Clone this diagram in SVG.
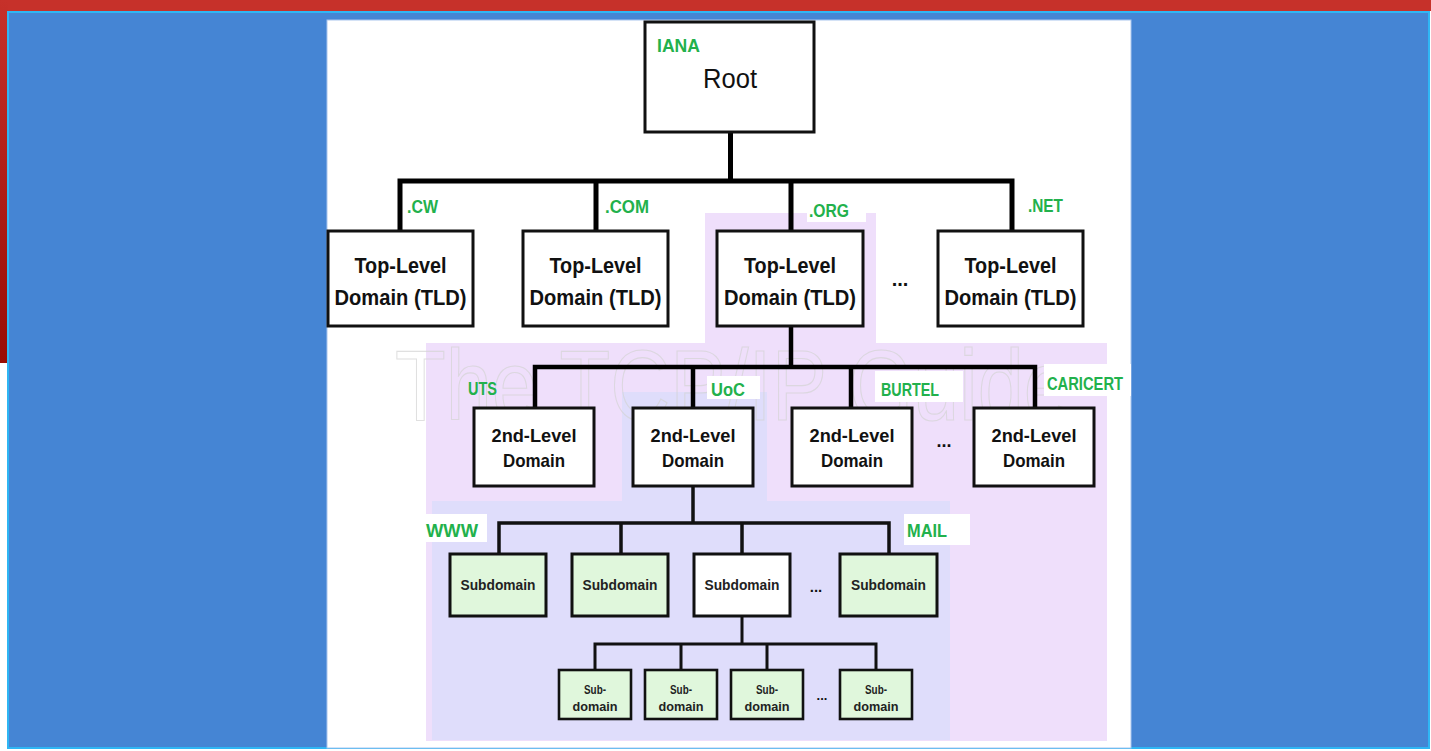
<svg xmlns="http://www.w3.org/2000/svg" width="1431" height="751" viewBox="0 0 1431 751">
<defs>
<linearGradient id="redStrip" x1="0" y1="0" x2="0" y2="1">
<stop offset="0" stop-color="#c6312a"/>
<stop offset="1" stop-color="#990d04"/>
</linearGradient>
<style>
.box{fill:#ffffff;stroke:#111111;stroke-width:3}
.sub{fill:#e0f7dc;stroke:#111111;stroke-width:3}
.subw{fill:#ffffff;stroke:#111111;stroke-width:3}
.ssub{fill:#e0f7dc;stroke:#111111;stroke-width:2.6}
.lbl{font-family:"Liberation Sans",Arial,sans-serif;font-size:18px;fill:#22b14c;font-weight:bold}
.t1{font-family:"Liberation Sans",Arial,sans-serif;font-size:22px;font-weight:bold;fill:#111111;text-anchor:middle}
.t2{font-family:"Liberation Sans",Arial,sans-serif;font-size:19px;font-weight:bold;fill:#111111;text-anchor:middle}
.t3{font-family:"Liberation Sans",Arial,sans-serif;font-size:14px;font-weight:bold;fill:#222222;text-anchor:middle}
.t4{font-family:"Liberation Sans",Arial,sans-serif;font-size:13px;font-weight:bold;fill:#222222;text-anchor:middle}
.dots{font-family:"Liberation Sans",Arial,sans-serif;font-weight:bold;fill:#111111;text-anchor:middle}
.c5{stroke:#000000;stroke-width:5;fill:none;stroke-linecap:square}
.c4{stroke:#000000;stroke-width:4.5;fill:none;stroke-linecap:square}
.c3{stroke:#111111;stroke-width:3.5;fill:none;stroke-linecap:square}
.c2{stroke:#111111;stroke-width:3;fill:none;stroke-linecap:square}
.wbg{fill:#ffffff}
</style>
</defs>

<!-- frame -->
<rect x="0" y="0" width="1431" height="751" fill="#ffffff"/>
<rect x="0" y="0" width="1431" height="11" fill="#c6312a"/>
<rect x="0" y="0" width="8" height="363" fill="url(#redStrip)"/>
<rect x="8" y="12" width="1421" height="736" fill="#4585d4" stroke="#2fb6f4" stroke-width="2"/>

<!-- image panel -->
<rect x="327" y="20" width="804" height="728" fill="#ffffff" stroke="#a9c6ee" stroke-width="1"/>

<!-- shaded zones -->
<polygon points="705,213 876,213 876,343 1107,343 1107,741 426,741 426,343 705,343" fill="#efdffb"/>
<polygon points="622,392 767,392 767,501 950,501 950,740 432,740 432,501 622,501" fill="#dfddfb"/>

<!-- watermark -->
<text x="395" y="420" font-family="Liberation Sans, Arial, sans-serif" font-size="100" fill="none" stroke="#d4d4d4" stroke-width="1.2" opacity="0.7" textLength="675" lengthAdjust="spacingAndGlyphs">The TCP/IP Guide</text>

<!-- label backgrounds -->
<rect class="wbg" x="807" y="212" width="59" height="10"/>
<rect class="wbg" x="707" y="376" width="53" height="23"/>
<rect class="wbg" x="875" y="371" width="88" height="31"/>
<rect class="wbg" x="1044" y="364" width="87" height="32"/>
<rect class="wbg" x="424" y="514" width="63" height="28"/>
<rect class="wbg" x="904" y="514" width="66" height="31"/>

<!-- connectors -->
<g id="connectors">
<path class="c5" d="M730.5 132 V181 M400 181 H1012 M400 181 V229 M596 181 V229 M791 181 V229 M1012 181 V229"/>
<path class="c4" d="M791 326 V367 M535 367 H1035 M535 367 V406 M693 367 V406 M851 367 V406 M1035 367 V406"/>
<path class="c3" d="M693 486 V523 M499 523 H889 M499 523 V553 M621 523 V553 M742 523 V553 M889 523 V553"/>
<path class="c2" d="M742 616 V644 M595 644 H876 M595 644 V669 M681 644 V669 M767 644 V669 M876 644 V669"/>
</g>

<!-- root -->
<g id="root">
<rect class="box" x="645" y="22" width="169" height="110"/>
<text class="lbl" x="657" y="52" textLength="43" lengthAdjust="spacingAndGlyphs">IANA</text>
<text x="730" y="88" font-family="Liberation Sans, Arial, sans-serif" font-size="27" fill="#111111" text-anchor="middle" textLength="54" lengthAdjust="spacingAndGlyphs">Root</text>
</g>

<!-- TLDs -->
<g id="tld-cw">
<rect class="box" x="328" y="231" width="145" height="95"/>
<text class="lbl" x="407" y="213" textLength="31" lengthAdjust="spacingAndGlyphs">.CW</text>
<text class="t1" x="400.5" y="273" textLength="92" lengthAdjust="spacingAndGlyphs">Top-Level</text>
<text class="t1" x="400.5" y="305" textLength="132" lengthAdjust="spacingAndGlyphs">Domain (TLD)</text>
</g>
<g id="tld-com">
<rect class="box" x="523" y="231" width="145" height="95"/>
<text class="lbl" x="605" y="213" textLength="44" lengthAdjust="spacingAndGlyphs">.COM</text>
<text class="t1" x="595.5" y="273" textLength="92" lengthAdjust="spacingAndGlyphs">Top-Level</text>
<text class="t1" x="595.5" y="305" textLength="132" lengthAdjust="spacingAndGlyphs">Domain (TLD)</text>
</g>
<g id="tld-org">
<rect class="box" x="717" y="231" width="146" height="95"/>
<text class="lbl" x="809" y="217" textLength="40" lengthAdjust="spacingAndGlyphs">.ORG</text>
<text class="t1" x="790" y="273" textLength="92" lengthAdjust="spacingAndGlyphs">Top-Level</text>
<text class="t1" x="790" y="305" textLength="132" lengthAdjust="spacingAndGlyphs">Domain (TLD)</text>
</g>
<text class="dots" x="900" y="286" font-size="20">...</text>
<g id="tld-net">
<rect class="box" x="938" y="231" width="145" height="95"/>
<text class="lbl" x="1028" y="212" textLength="35" lengthAdjust="spacingAndGlyphs">.NET</text>
<text class="t1" x="1010.5" y="273" textLength="92" lengthAdjust="spacingAndGlyphs">Top-Level</text>
<text class="t1" x="1010.5" y="305" textLength="132" lengthAdjust="spacingAndGlyphs">Domain (TLD)</text>
</g>

<!-- second level -->
<g id="sld-uts">
<rect class="box" x="474" y="408" width="120" height="78"/>
<text class="lbl" x="468" y="395" textLength="29" lengthAdjust="spacingAndGlyphs">UTS</text>
<text class="t2" x="534" y="442" textLength="85" lengthAdjust="spacingAndGlyphs">2nd-Level</text>
<text class="t2" x="534" y="467" textLength="62" lengthAdjust="spacingAndGlyphs">Domain</text>
</g>
<g id="sld-uoc">
<rect class="box" x="633" y="408" width="120" height="78"/>
<text class="lbl" x="711" y="396" textLength="34" lengthAdjust="spacingAndGlyphs">UoC</text>
<text class="t2" x="693" y="442" textLength="85" lengthAdjust="spacingAndGlyphs">2nd-Level</text>
<text class="t2" x="693" y="467" textLength="62" lengthAdjust="spacingAndGlyphs">Domain</text>
</g>
<g id="sld-burtel">
<rect class="box" x="792" y="408" width="120" height="78"/>
<text class="lbl" x="881" y="396" textLength="58" lengthAdjust="spacingAndGlyphs">BURTEL</text>
<text class="t2" x="852" y="442" textLength="85" lengthAdjust="spacingAndGlyphs">2nd-Level</text>
<text class="t2" x="852" y="467" textLength="62" lengthAdjust="spacingAndGlyphs">Domain</text>
</g>
<text class="dots" x="944" y="447" font-size="18">...</text>
<g id="sld-caricert">
<rect class="box" x="974" y="408" width="120" height="78"/>
<text class="lbl" x="1047" y="390" textLength="76" lengthAdjust="spacingAndGlyphs">CARICERT</text>
<text class="t2" x="1034" y="442" textLength="85" lengthAdjust="spacingAndGlyphs">2nd-Level</text>
<text class="t2" x="1034" y="467" textLength="62" lengthAdjust="spacingAndGlyphs">Domain</text>
</g>

<!-- subdomains -->
<g id="sub-www">
<rect class="sub" x="450" y="554" width="96" height="62"/>
<text class="lbl" x="426" y="537" textLength="52" lengthAdjust="spacingAndGlyphs">WWW</text>
<text class="t3" x="498" y="590" textLength="75" lengthAdjust="spacingAndGlyphs">Subdomain</text>
</g>
<g id="sub-2">
<rect class="sub" x="572" y="554" width="96" height="62"/>
<text class="t3" x="620" y="590" textLength="75" lengthAdjust="spacingAndGlyphs">Subdomain</text>
</g>
<g id="sub-3">
<rect class="subw" x="694" y="554" width="96" height="62"/>
<text class="t3" x="742" y="590" textLength="75" lengthAdjust="spacingAndGlyphs">Subdomain</text>
</g>
<text class="dots" x="816" y="592" font-size="15">...</text>
<g id="sub-mail">
<rect class="sub" x="840" y="554" width="97" height="62"/>
<text class="lbl" x="907" y="537" textLength="40" lengthAdjust="spacingAndGlyphs">MAIL</text>
<text class="t3" x="888.5" y="590" textLength="75" lengthAdjust="spacingAndGlyphs">Subdomain</text>
</g>

<!-- sub-subdomains -->
<g id="ssub-1">
<rect class="ssub" x="559" y="670" width="72" height="49"/>
<text class="t4" x="595" y="694" textLength="22" lengthAdjust="spacingAndGlyphs">Sub-</text>
<text class="t4" x="595" y="711" textLength="45" lengthAdjust="spacingAndGlyphs">domain</text>
</g>
<g id="ssub-2">
<rect class="ssub" x="645" y="670" width="72" height="49"/>
<text class="t4" x="681" y="694" textLength="22" lengthAdjust="spacingAndGlyphs">Sub-</text>
<text class="t4" x="681" y="711" textLength="45" lengthAdjust="spacingAndGlyphs">domain</text>
</g>
<g id="ssub-3">
<rect class="ssub" x="731" y="670" width="72" height="49"/>
<text class="t4" x="767" y="694" textLength="22" lengthAdjust="spacingAndGlyphs">Sub-</text>
<text class="t4" x="767" y="711" textLength="45" lengthAdjust="spacingAndGlyphs">domain</text>
</g>
<text class="dots" x="822" y="700" font-size="13">...</text>
<g id="ssub-4">
<rect class="ssub" x="840" y="670" width="72" height="49"/>
<text class="t4" x="876" y="694" textLength="22" lengthAdjust="spacingAndGlyphs">Sub-</text>
<text class="t4" x="876" y="711" textLength="45" lengthAdjust="spacingAndGlyphs">domain</text>
</g>
</svg>
